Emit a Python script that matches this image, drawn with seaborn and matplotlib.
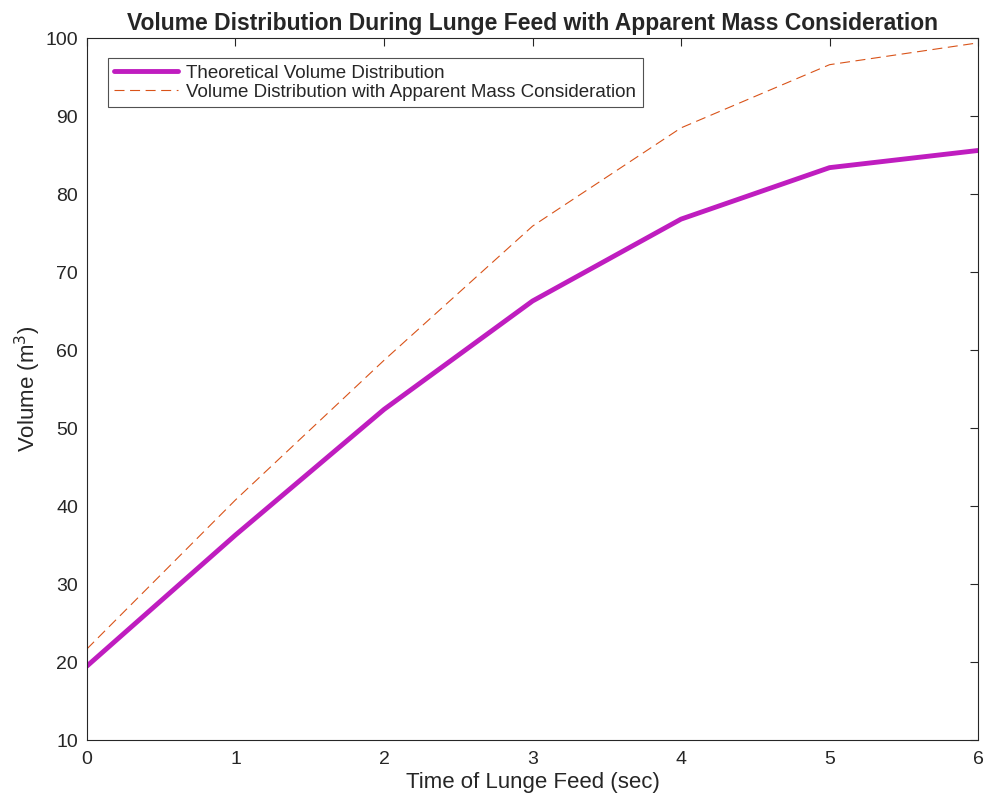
import numpy as np
import pandas as pd
import seaborn as sns
import matplotlib.pyplot as plt

# data
time_sec = [0, 1, 2, 3, 4, 5, 6]
theoretical = [19.5, 36.3, 52.4, 66.3, 76.8, 83.4, 85.6]
apparent_mass = [21.7, 40.8, 58.7, 75.9, 88.5, 96.6, 99.4]

df = pd.DataFrame({
    'Time of Lunge Feed (sec)': time_sec * 2,
    'Volume': theoretical + apparent_mass,
    'Series': ['Theoretical Volume Distribution'] * 7
              + ['Volume Distribution with Apparent Mass Consideration'] * 7,
})

sns.set_style("white")
plt.rcParams['font.family'] = ['Liberation Sans', 'DejaVu Sans']

fig = plt.figure(figsize=(9.85, 7.95), dpi=100)
ax = fig.add_axes([0.0883, 0.069, 0.9047, 0.883])

sns.lineplot(data=df, x='Time of Lunge Feed (sec)', y='Volume', hue='Series',
             style='Series',
             palette=['#BF1DBF', '#D95319'],
             dashes=[(None, None), (9, 5)],
             size='Series', sizes=[3.5, 0.8],
             ax=ax)

ax.set_xlim(0, 6)
ax.set_ylim(10, 100)
ax.set_xticks(range(0, 7))
ax.set_yticks(range(10, 101, 10))
ax.tick_params(direction='in', length=6, width=0.8, top=True, right=True,
               labelsize=14, colors='#262626', pad=6.5)
ax.tick_params(axis='x', pad=8)
for s in ax.spines.values():
    s.set_color('#262626')
    s.set_linewidth(0.8)

ax.set_xlabel('Time of Lunge Feed (sec)', fontsize=16, color='#262626', labelpad=3)
ax.set_ylabel('Volume (m$^3$)', fontsize=16, color='#262626', labelpad=2)
ax.set_title('Volume Distribution During Lunge Feed with Apparent Mass Consideration',
             fontsize=16.5, fontweight='bold', pad=6)

handles, labels = ax.get_legend_handles_labels()
leg = ax.legend(handles, labels, loc='upper left', bbox_to_anchor=(0.0235, 0.972),
                fontsize=13.5, frameon=True, fancybox=False, edgecolor='#262626',
                borderpad=0.35, labelspacing=0.1, handlelength=3.4, handletextpad=0.43,
                borderaxespad=0)
leg.get_frame().set_linewidth(0.8)

plt.savefig('out.png', dpi=100)
